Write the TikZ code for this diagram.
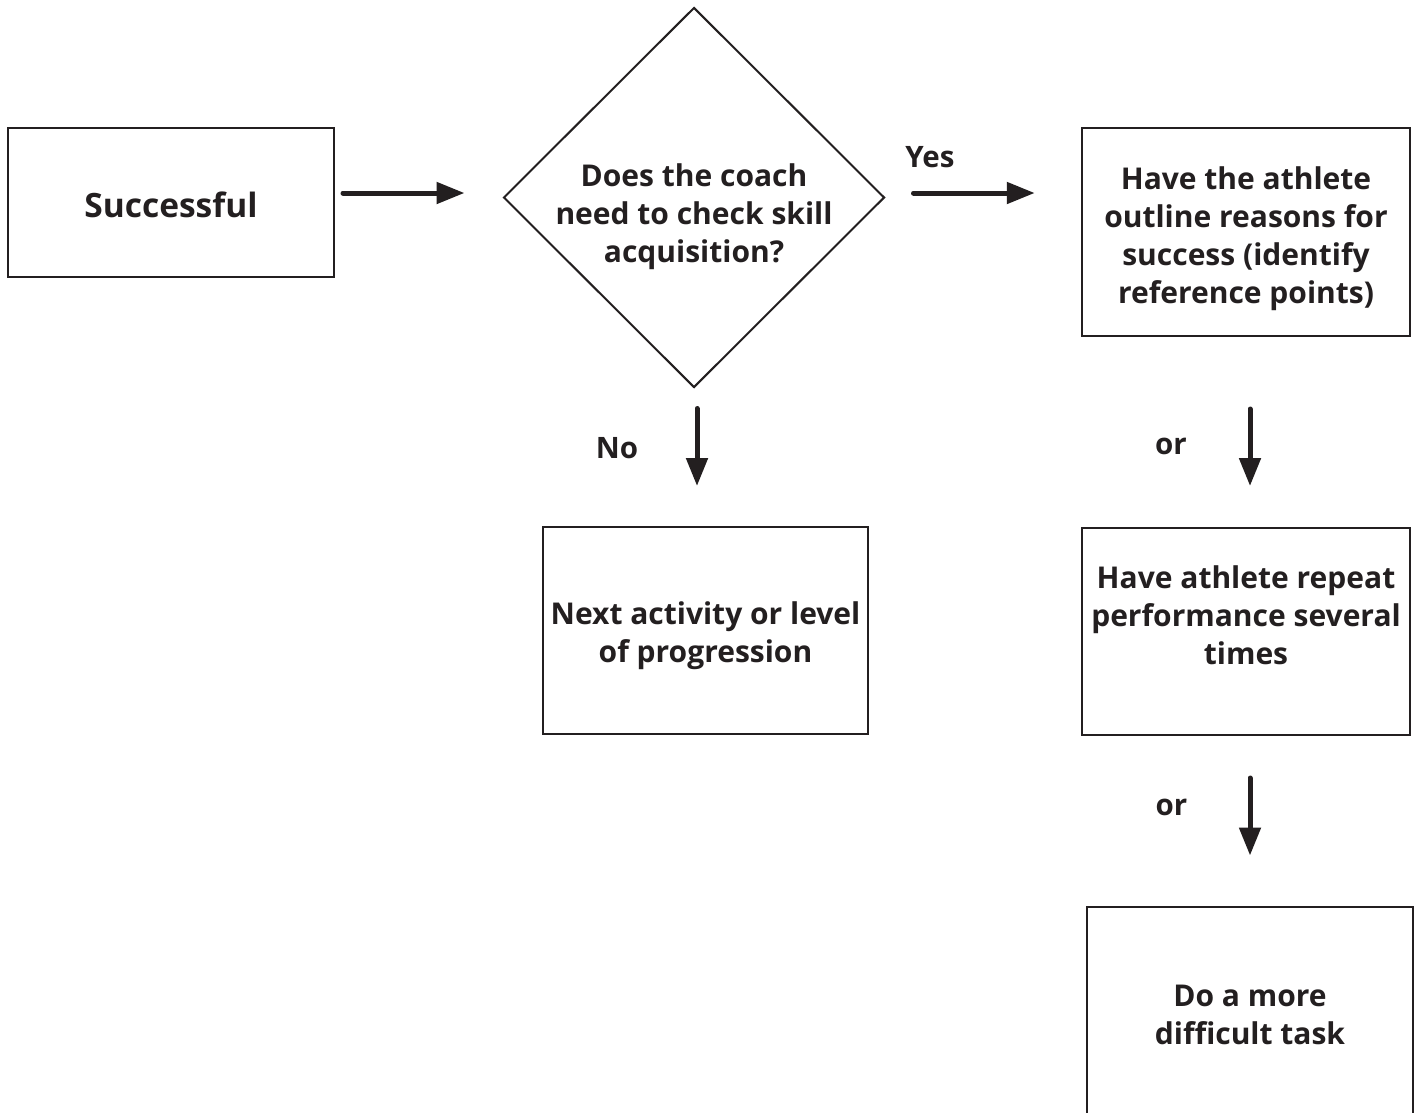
\documentclass[tikz,border=0pt]{standalone}
\usepackage{fontspec}
\setmainfont{Open Sans}
\usetikzlibrary{shapes.geometric,arrows.meta}
\definecolor{ink}{HTML}{231F20}
\begin{document}
\begin{tikzpicture}[x=1pt,y=-1pt,
  every node/.style={text=ink,font=\bfseries\fontsize{30}{38}\selectfont,align=center,inner sep=0pt},
  box/.style={draw=ink,line width=2pt,rectangle},
  decision/.style={draw=ink,line width=2pt,diamond,aspect=1},
  arr/.style={draw=ink,line width=5pt,line cap=round,-{Triangle[length=28pt,width=21pt]}},
  lbl/.style={font=\bfseries\fontsize{29.5}{34}\selectfont}]
\useasboundingbox (0,0) rectangle (1416,1112);
\fill[white] (0,0) rectangle (1416,1112);

% outlines
\node[box,minimum width=326,minimum height=149] (succ) at (171,202.5) {};
\node[decision,minimum width=381,minimum height=380] (dia) at (694,197.5) {};
\node[box,minimum width=328.5,minimum height=208] (reasons) at (1246,232) {};
\node[box,minimum width=325,minimum height=207] (next) at (705.5,630.5) {};
\node[box,minimum width=328.5,minimum height=207] (repeat) at (1246,631.5) {};
\node[box,minimum width=326,minimum height=207] (harder) at (1250,1010) {};

% texts inside the outlines
\node[font=\bfseries\fontsize{33.5}{38}\selectfont] (succ-t) at (171,205) {Successful};
\node (dia-t) at (694,216.5) {Does the coach\\need to check skill\\acquisition?};
\node (reasons-t) at (1246,238.5)
  {Have the athlete\\outline reasons for\\success (identify\\reference points)};
\node (next-t) at (705.5,636) {Next activity or level\\of progression};
\node (repeat-t) at (1246,615) {Have athlete repeat\\performance several\\times};
\node (harder-t) at (1250,1014.5) {Do a more\\difficult task};

% connectors
\draw[arr] ([shift={(8,-9.5)}]succ.east) -- ([shift={(-38,-4.5)}]dia.west);
\draw[arr] ([shift={(28,-4.5)}]dia.east) -- ([shift={(-46,-39)}]reasons.west);
\draw[arr] ([shift={(3,20)}]dia.south) -- ([shift={(-8.5,-40)}]next.north);
\draw[arr] ([shift={(4,72)}]reasons.south) -- ([shift={(4,-41)}]repeat.north);
\draw[arr] ([shift={(4,42)}]repeat.south) -- ([shift={(0,-50)}]harder.north);

% branch labels
\node[lbl] (yes) at (930,157) {Yes};
\node[lbl] (no) at (617,448) {No};
\node[lbl] (or1) at (1171,446) {or};
\node[lbl] (or2) at (1171.5,807) {or};
\end{tikzpicture}
\end{document}
